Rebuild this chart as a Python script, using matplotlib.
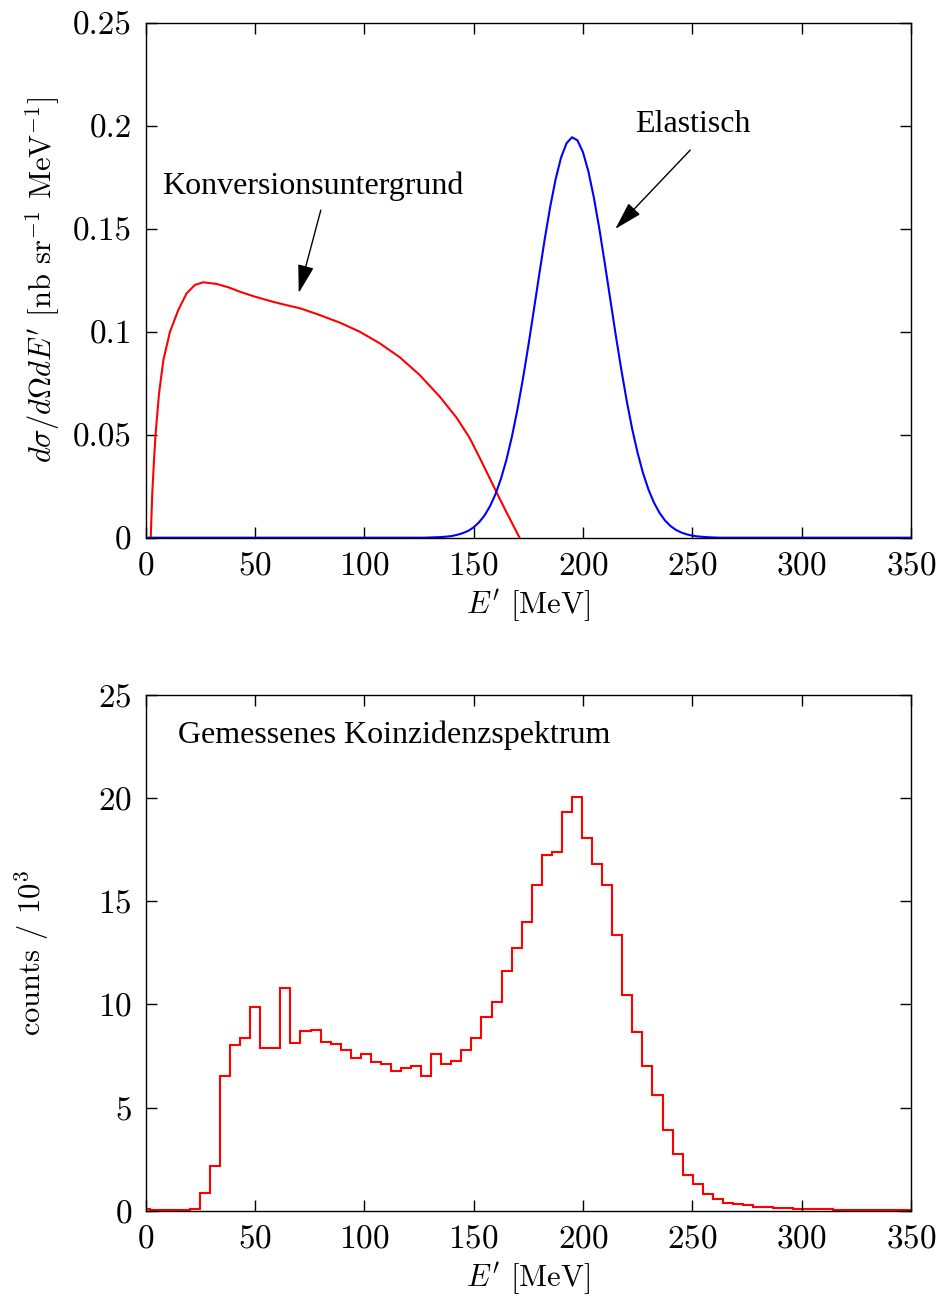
import numpy as np
import matplotlib
matplotlib.use("Agg")
import matplotlib.pyplot as plt

plt.rcParams['font.family'] = ['cmr10', 'DejaVu Serif']
plt.rcParams['mathtext.fontset'] = 'cm'
plt.rcParams['axes.formatter.use_mathtext'] = True
plt.rcParams['font.size'] = 22

# upper panel: model cross sections
conv_E = [2.3, 3.0, 3.8, 4.5, 6.1, 8.1, 11.1, 14.9, 18.7, 22.5, 26.3, 32.4, 38.0,
          43.1, 50.0, 58.3, 64.0, 70.5, 79.6, 88.8, 97.9, 107.0, 116.2, 125.3,
          134.4, 142.1, 148.2, 153.0, 157.3, 161.0, 164.9, 168.0, 171.0]
conv_xs = [0.0, 0.0215, 0.0377, 0.050, 0.070, 0.0863, 0.100, 0.1105, 0.1186, 0.1227,
           0.1240, 0.1232, 0.1215, 0.1194, 0.1170, 0.1145, 0.1130, 0.1114, 0.1081,
           0.1044, 0.1000, 0.0944, 0.0876, 0.0790, 0.0686, 0.0584, 0.0484, 0.0383,
           0.0290, 0.0209, 0.0126, 0.0062, 0.0]

elast_E = [0, 125, 127.5, 130, 132.5, 135, 137.5, 140, 142.5, 145, 147.5, 150, 152.5,
           155, 157.5, 160, 162.5, 165, 167.5, 170, 172.5, 175, 177.5, 180, 182.5,
           185, 187.5, 190, 192.5, 195, 197.5, 200, 202.5, 205, 207.5, 210, 212.5,
           215, 217.5, 220, 222.5, 225, 227.5, 230, 232.5, 235, 237.5, 240, 242.5,
           245, 247.5, 250, 252.5, 255, 257.5, 260, 262.5, 350]
elast_xs = [0.0, 0.0, 0.0, 0.0001, 0.0002, 0.0003, 0.0005, 0.0008, 0.0014, 0.0022,
            0.0033, 0.0050, 0.0075, 0.0108, 0.0153, 0.0211, 0.0286, 0.0378, 0.0490,
            0.0620, 0.0768, 0.0930, 0.1102, 0.1277, 0.1448, 0.1605, 0.1740, 0.1846,
            0.1915, 0.1944, 0.1929, 0.1872, 0.1778, 0.1651, 0.1500, 0.1332, 0.1158,
            0.0984, 0.0819, 0.0666, 0.0529, 0.0412, 0.0313, 0.0233, 0.0170, 0.0121,
            0.0084, 0.0057, 0.0038, 0.0025, 0.0016, 0.0010, 0.0006, 0.0004, 0.0002,
            0.0001, 0.0, 0.0]

# lower panel: measured spectrum (counts / 10^3)
bin_start = -2.8
bin_width = 4.6
counts = [0.08, 0.02, 0.02, 0.02, 0.05,
          0.08, 0.87, 2.18, 6.52, 8.02, 8.37, 9.89, 7.89, 7.90, 10.79,
          8.15, 8.71, 8.77, 8.18, 8.06, 7.77, 7.42, 7.61, 7.21, 7.13,
          6.79, 6.92, 7.02, 6.53, 7.61, 7.11, 7.27, 7.81, 8.39, 9.37,
          10.11, 11.60, 12.73, 14.00, 15.77, 17.26, 17.37, 19.34, 20.06, 18.09,
          16.82, 15.77, 13.35, 10.47, 8.65, 7.03, 5.60,
          3.89, 2.73, 1.71, 1.29, 0.81, 0.57, 0.37, 0.31, 0.26, 0.19, 0.16, 0.13,
          0.11, 0.10, 0.08, 0.07, 0.06, 0.05, 0.05, 0.04, 0.04, 0.03, 0.03, 0.03, 0.02]

x_ticks = [0, 50, 100, 150, 200, 250, 300, 350]
top_yticks = [0, 0.05, 0.1, 0.15, 0.2, 0.25]
top_ylabels = ['0', '0.05', '0.1', '0.15', '0.2', '0.25']
bot_yticks = [0, 5, 10, 15, 20, 25]

fig = plt.figure(figsize=(9.4, 13), dpi=100)
ax1 = fig.add_axes([0.155, 0.5864, 0.814, 0.3961])
ax2 = fig.add_axes([0.155, 0.0687, 0.814, 0.3967])

arrow = dict(arrowstyle='-|>,head_length=0.7,head_width=0.2', color='black',
             lw=1.0, mutation_scale=25, shrinkA=0, shrinkB=0)
times = ['Liberation Serif', 'DejaVu Serif']

ax1.plot(conv_E, conv_xs, color='#ff0000', lw=1.5)
ax1.plot(elast_E, elast_xs, color='#0000ff', lw=1.5)
ax1.set_xlim(0, 350)
ax1.set_ylim(0, 0.25)
ax1.set_yticks(top_yticks)
ax1.set_yticklabels(top_ylabels)
ax1.set_ylabel(r'$d\sigma/d\Omega dE^\prime$ [nb sr$^{-1}$ MeV$^{-1}$]', labelpad=8)
ax1.text(7.4, 0.1707, 'Konversionsuntergrund', family=times, fontsize=23, va='center')
ax1.annotate('', xy=(70.0, 0.1188), xytext=(80.1, 0.159), arrowprops=arrow)
ax1.text(224, 0.2008, 'Elastisch', family=times, fontsize=23, va='center')
ax1.annotate('', xy=(214.8, 0.1499), xytext=(249.1, 0.1882), arrowprops=arrow)

edges = bin_start + bin_width * np.arange(len(counts) + 1)
ax2.stairs(counts, edges, color='#ff0000', lw=1.5)
ax2.set_xlim(0, 350)
ax2.set_ylim(0, 25)
ax2.set_yticks(bot_yticks)
ax2.set_ylabel(r'counts / $10^3$', labelpad=34)
ax2.text(14.8, 23.06, 'Gemessenes Koinzidenzspektrum', family=times, fontsize=23, va='center')

for ax in (ax1, ax2):
    ax.set_xticks(x_ticks)
    ax.set_xlabel(r'$E^\prime$ [MeV]', labelpad=5)
    ax.tick_params(direction='in', top=True, right=True, length=8, width=1.0,
                   pad=10, labelsize=24)
    for s in ax.spines.values():
        s.set_linewidth(1.0)

fig.savefig('out.png', dpi=100)
